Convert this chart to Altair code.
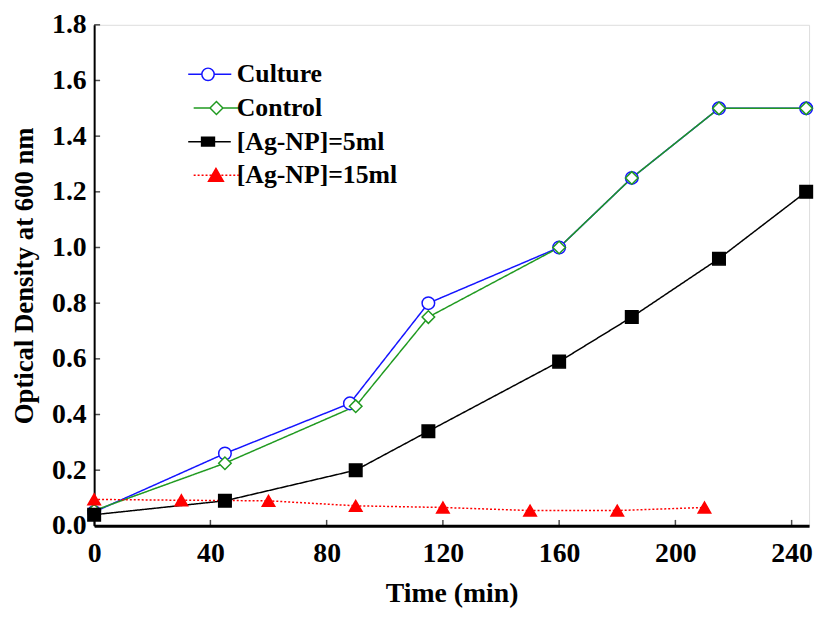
import altair as alt
import pandas as pd

# ---- data ----
series_names = ["Culture", "Control", "[Ag-NP]=5ml", "[Ag-NP]=15ml"]

culture_time = [0, 45, 88, 115, 160, 185, 215, 245]
culture_od = [0.05, 0.26, 0.44, 0.80, 1.00, 1.25, 1.50, 1.50]

control_time = [0, 45, 90, 115, 160, 185, 215, 245]
control_od = [0.055, 0.225, 0.43, 0.75, 1.00, 1.25, 1.50, 1.50]

ag5_time = [0, 45, 90, 115, 160, 185, 215, 245]
ag5_od = [0.04, 0.09, 0.20, 0.34, 0.59, 0.75, 0.96, 1.20]

ag15_time = [0, 30, 60, 90, 120, 150, 180, 210]
ag15_od = [0.095, 0.092, 0.09, 0.072, 0.066, 0.055, 0.055, 0.066]

x_ticks = [0, 40, 80, 120, 160, 200, 240]
y_ticks = [0.0, 0.2, 0.4, 0.6, 0.8, 1.0, 1.2, 1.4, 1.6, 1.8]

# ---- styles ----
colors = ["#1414ff", "#209a20", "#000000", "#ff0000"]
fills = ["#ffffff", "#ffffff", "#000000", "#ff0000"]
shapes = ["circle", "diamond", "square", "triangle-up"]
dashes = [[1, 0], [1, 0], [1, 0], [2, 2]]
FONT = "Liberation Serif"

rows = []
for name, ts, vs in zip(series_names,
                        [culture_time, control_time, ag5_time, ag15_time],
                        [culture_od, control_od, ag5_od, ag15_od]):
    for t, v in zip(ts, vs):
        rows.append({"series": name, "time": t, "od": v})
df = pd.DataFrame(rows)
df["sid"] = df["series"].map({n: i for i, n in enumerate(series_names)})

xscale = alt.Scale(domain=[0, 246], nice=False, zero=False)
yscale = alt.Scale(domain=[0, 1.8], nice=False)

x_enc = alt.X("time:Q", scale=xscale, axis=alt.Axis(
    values=x_ticks, format="d", title="Time (min)", grid=False, ticks=False, tickSize=0,
    domainColor="black", domainWidth=3, labelFont=FONT, labelFontSize=28,
    labelFontWeight="bold", labelColor="black", labelPadding=14,
    titleFont=FONT, titleFontSize=28, titleFontWeight="bold", titleColor="black",
    titlePadding=12, labelFlush=False))
y_enc = alt.Y("od:Q", scale=yscale, axis=alt.Axis(
    values=y_ticks, format=".1f", title="Optical Density at 600 nm", grid=False,
    ticks=False, tickSize=0, domainColor="black", domainWidth=2, labelFont=FONT,
    labelFontSize=28, labelFontWeight="bold", labelColor="black", labelPadding=8,
    titleFont=FONT, titleFontSize=27, titleFontWeight="bold", titleColor="black",
    titlePadding=13, labelFlush=False))

# legend symbols: line + marker drawn as custom paths (units of 5 px)
def circle(cx, r):
    return f"M{cx - r},0A{r},{r} 0 1,0 {cx + r},0A{r},{r} 0 1,0 {cx - r},0Z"

def dotted(x0, x1, seg=0.4):
    parts = []
    x = x0
    while x < x1:
        parts.append(f"M{x:.2f},0H{min(x + seg, x1):.2f}")
        x += 2 * seg
    return "".join(parts)

leg_paths = [
    "M-4.2,0H-1.45M1.05,0H4.5" + circle(-0.2, 1.25),
    "M-3.1,0H0.2M2.8,0H6.0" + "M1.5,-1.3L2.8,0L1.5,1.3L0.2,0Z",
    "M-4.2,0H4.4" + "M-1.5,-0.9H1.1V0.9H-1.5Z",
    dotted(-3.1, 6.4) + "M1.4,-1.4L2.9,1.2L-0.1,1.2Z",
]

legend = alt.Legend(
    orient="none", legendX=103, legendY=37, title=None, padding=0,
    labelFont=FONT, labelFontSize=26, labelFontWeight="bold", labelColor="black",
    symbolSize=100, symbolStrokeWidth=1.5, labelOffset=15, rowPadding=8,
    labelLimit=400)

layers = []
for name, col, dash in zip(series_names, colors, dashes):
    layers.append(
        alt.Chart(df).transform_filter(alt.FieldEqualPredicate(field="series", equal=name))
        .mark_line(color=col, strokeWidth=1.5, strokeDash=dash)
        .encode(x=x_enc, y=y_enc)
    )

points = alt.Chart(df).mark_point(size=160, strokeWidth=1.5, opacity=1).encode(
    x=x_enc, y=y_enc,
    color=alt.Color("series:N", scale=alt.Scale(domain=series_names, range=colors), legend=None),
    fill=alt.Fill("series:N", scale=alt.Scale(domain=series_names, range=fills), legend=None),
    shape=alt.Shape("series:N", scale=alt.Scale(domain=series_names, range=shapes), legend=None),
    order=alt.Order("sid:Q"),
)
layers.append(points)

# legend-only layer (no rows drawn), custom line+marker symbols
legend_layer = alt.Chart(df).transform_filter("false").mark_point(strokeWidth=1.5, opacity=1).encode(
    x=x_enc, y=y_enc,
    color=alt.Color("series:N", scale=alt.Scale(domain=series_names, range=colors), legend=legend),
    fill=alt.Fill("series:N", scale=alt.Scale(domain=series_names, range=fills), legend=legend),
    shape=alt.Shape("series:N", scale=alt.Scale(domain=series_names, range=leg_paths), legend=legend),
)

xt = pd.DataFrame({"t": x_ticks})
yt = pd.DataFrame({"v": y_ticks})
x_tick_marks = alt.Chart(xt).mark_tick(orient="vertical", size=6, thickness=1.5,
                                       yOffset=-3, color="black").encode(
    x=alt.X("t:Q", scale=xscale), y=alt.Y(datum=0, scale=yscale))
y_tick_marks = alt.Chart(yt).mark_tick(orient="horizontal", size=6, thickness=1.5,
                                       xOffset=3, color="black").encode(
    y=alt.Y("v:Q", scale=yscale), x=alt.X(datum=0, scale=xscale))
layers += [x_tick_marks, y_tick_marks, legend_layer]

chart = alt.layer(*layers).resolve_scale(
    color="independent", fill="independent", shape="independent"
).properties(
    width=722, height=506,
    autosize=alt.AutoSizeParams(type="none"),
    padding={"left": 87, "top": 14, "right": 8, "bottom": 82},
).configure_view(stroke=None).configure(background="white")

chart.save("out.html", embed_options={"renderer": "svg", "actions": False})
